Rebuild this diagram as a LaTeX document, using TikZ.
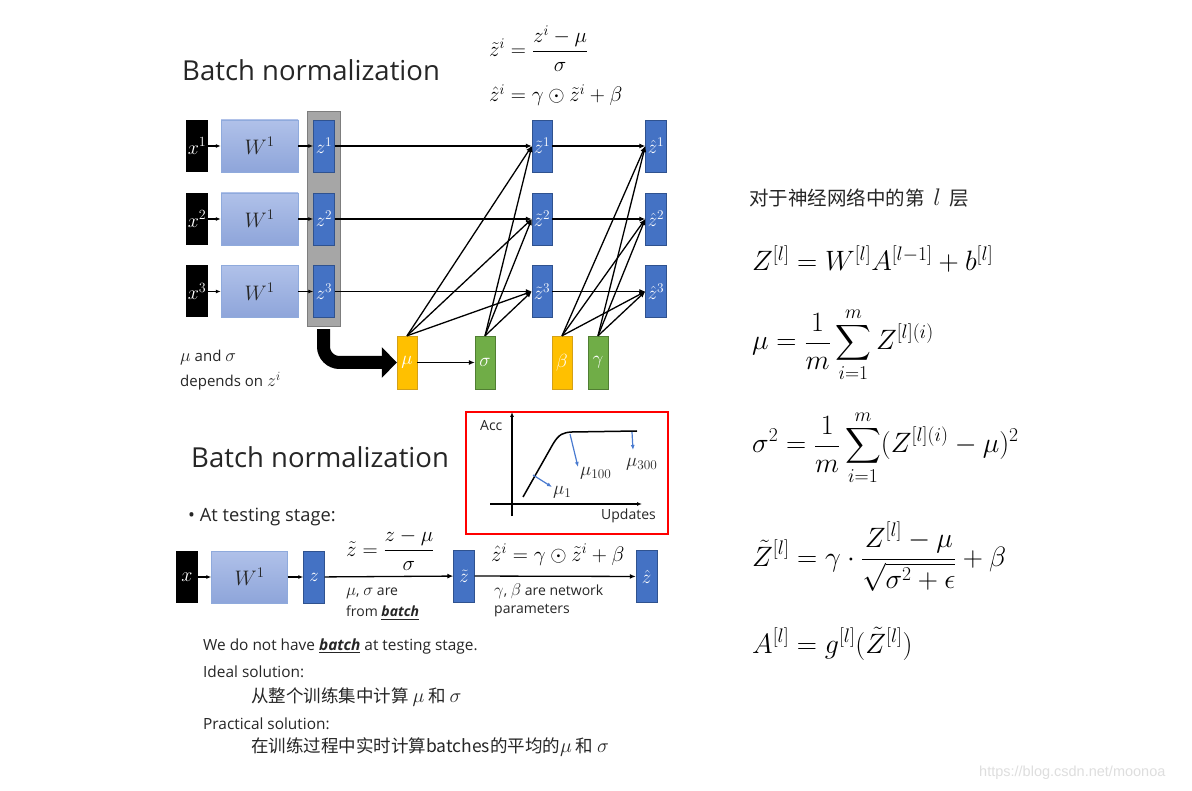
\RequirePackage{fix-cm}
\documentclass[tikz,border=0pt]{standalone}
\usepackage{amsmath}
\usepackage[no-math]{fontspec}
\setmainfont{Open Sans}
\newfontfamily\cjk{Noto Sans CJK SC}
\newfontfamily\wmfont{Liberation Sans}
\usetikzlibrary{arrows.meta}
\newcommand\fsz[1]{\fontsize{#1}{#1}\selectfont}
\definecolor{zblue}{HTML}{4472C4}
\definecolor{zbord}{HTML}{2F528F}
\definecolor{wtop}{HTML}{B0C1E9}
\definecolor{wbot}{HTML}{8EA5DA}
\definecolor{wbord}{HTML}{8FAADC}
\definecolor{yel}{HTML}{FFC000}
\definecolor{yelb}{HTML}{D4A017}
\definecolor{grn}{HTML}{70AD47}
\definecolor{grnb}{HTML}{507E32}
\definecolor{colgray}{HTML}{A6A6A6}
\definecolor{txt}{HTML}{262626}
\definecolor{arrblue}{HTML}{4A7BD0}
\begin{document}
\begin{tikzpicture}[x=1pt,y=-1pt,
  xbox/.style={fill=black, minimum width=22pt, minimum height=52pt, inner sep=0pt, text=white, font=\fsz{20}},
  wbox/.style={draw=wbord, top color=wtop, bottom color=wbot, minimum width=77pt, minimum height=52pt, inner sep=0pt, text=txt, font=\fsz{21}},
  zbox/.style={draw=zbord, fill=zblue, minimum width=21pt, minimum height=52pt, inner sep=0pt, text=white, font=\fsz{19}},
  ybox/.style={draw=yelb, fill=yel, minimum width=20pt, minimum height=53pt, inner sep=0pt, text=white, font=\fsz{19}},
  gbox/.style={draw=grnb, fill=grn, minimum width=20pt, minimum height=53pt, inner sep=0pt, text=white, font=\fsz{19}},
  conn/.style={line width=1.3pt, -{Latex[length=6pt,width=5pt]}},
  thin conn/.style={line width=1.1pt, -{Latex[length=5pt,width=4pt]}},
  lbl/.style={anchor=west, inner sep=0pt, text=txt},
  eq/.style={anchor=base west, inner sep=0pt, font=\fsz{28}}]
\useasboundingbox (0,0) rectangle (1192,791);
\fill[white] (0,0) rectangle (1192,791);

% ---------- top diagram ----------
\node[lbl, font=\fsz{27.5}] (t1) at (182,70) {Batch normalization};
\node[eq, font=\fsz{21}] (f1) at (489,57) {$\displaystyle \tilde{z}^i=\frac{z^i-\mu}{\sigma}$};
\node[eq, font=\fsz{21}] (f2) at (489,102) {$\hat{z}^i=\gamma\odot\tilde{z}^i+\beta$};

\node[fill=colgray, draw=colgray!75!black, minimum width=33pt, minimum height=215pt, inner sep=0pt] (col) at (323.5,218.5) {};

\foreach \i/\yy in {1/146,2/219,3/291.5}{
  \node[xbox] (x\i) at (197,\yy) {$x^{\i}$};
  \node[wbox] (w\i) at (259.5,\yy) {$W^1$};
  \node[zbox] (z\i) at (324,\yy) {$z^{\i}$};
  \node[zbox, minimum width=20pt] (zt\i) at (542,\yy) {$\tilde{z}^{\i}$};
  \node[zbox] (zh\i) at (656,\yy) {$\hat{z}^{\i}$};
  \draw[thin conn] (x\i) -- (w\i);
  \draw[thin conn] (w\i) -- (z\i);
  \draw[conn] (z\i) -- (zt\i);
  \draw[conn] (zt\i) -- (zh\i);
}

\node[ybox] (mu) at (407,362.5) {$\mu$};
\node[gbox] (sig) at (485,362.5) {$\sigma$};
\node[ybox] (beta) at (562,362.5) {$\beta$};
\node[gbox] (gam) at (598,362.5) {$\gamma$};
\draw[conn] (mu) -- (sig);
\foreach \i in {1,2,3}{
  \draw[conn] (mu.north) -- (zt\i.west);
  \draw[conn] (sig.north) -- (zt\i.west);
  \draw[conn] (beta.north) -- (zh\i.west);
  \draw[conn] (gam.north) -- (zh\i.west);
}
\draw[line width=13pt, -{Triangle[length=15pt,width=30pt]}, rounded corners=16pt]
  ([yshift=-3pt]col.south) |- (mu.west);

\node[lbl, font=\fsz{15}] (dep1) at (180,358) {{\fsz{18}$\mu$} and {\fsz{18}$\sigma$}};
\node[lbl, font=\fsz{15}] (dep2) at (180,381) {depends on {\fsz{18}$z^i$}};

% ---------- bottom diagram ----------
\node[lbl, font=\fsz{27.5}] (t2) at (191,457) {Batch normalization};

\node[draw=red, line width=1.8pt, minimum width=202pt, minimum height=122pt, inner sep=0pt] (chart) at (567,473) {};
\draw[line width=1.2pt, -{Latex[length=5pt,width=4pt]}] (512,516) -- (512,412);
\draw[line width=1.2pt, -{Latex[length=5pt,width=4pt]}] (490,504) -- (642,504);
\draw[line width=1.5pt] (523,497) -- (553,444) .. controls (559,434) and (563,432.5) .. (572,432) -- (637,431);
\draw[arrblue, line width=1.2pt, -{Latex[length=5pt,width=4pt]}] (533,475) -- (552,487);
\draw[arrblue, line width=1.2pt, -{Latex[length=5pt,width=4pt]}] (570,434) -- (578,467);
\draw[arrblue, line width=1.2pt, -{Latex[length=5pt,width=4pt]}] (632,432) -- (633,450);
\node[lbl, font=\fsz{19}] (m1) at (553,492) {$\mu_1$};
\node[lbl, font=\fsz{19}] (m100) at (580,473) {$\mu_{100}$};
\node[lbl, font=\fsz{19}] (m300) at (626,464) {$\mu_{300}$};
\node[lbl, font=\fsz{14}] (acc) at (480,426) {Acc};
\node[lbl, font=\fsz{14}] (upd) at (601,516) {Updates};

\node[lbl, font=\fsz{18.3}] (test) at (188,517) {• At testing stage:};

\node[xbox] (bx) at (187,577) {$x$};
\node[wbox, minimum width=76pt] (bw) at (249.5,577) {$W^1$};
\node[zbox] (bz) at (314,577) {$z$};
\node[zbox] (bzt) at (464,576) {$\tilde z$};
\node[zbox] (bzh) at (646.5,576.5) {$\hat z$};
\draw[thin conn] (bx) -- (bw);
\draw[thin conn] (bw) -- (bz);
\draw[conn] (bz) -- (bzt);
\draw[conn] (bzt) -- (bzh);

\node[eq, font=\fsz{21}] (bf1) at (346,556) {$\displaystyle \tilde{z}=\frac{z-\mu}{\sigma}$};
\node[eq, font=\fsz{21}] (bf2) at (491,561) {$\hat{z}^i=\gamma\odot\tilde{z}^i+\beta$};
\node[lbl, font=\fsz{14}] (n1) at (346,593) {{\fsz{17}$\mu$}, {\fsz{17}$\sigma$} are};
\node[lbl, font=\fsz{14}] (n2) at (346,613) {from \underline{\textbf{\textit{batch}}}};
\node[lbl, font=\fsz{14}] (n3) at (494,591) {{\fsz{17}$\gamma$}, {\fsz{17}$\beta$} are network};
\node[lbl, font=\fsz{14}] (n4) at (494,611) {parameters};

\node[lbl, font=\fsz{15.4}] (l1) at (203,646) {We do not have \underline{\textbf{\textit{batch}}} at testing stage.};
\node[lbl, font=\fsz{15.4}] (l2) at (203,672) {Ideal solution:};
\node[lbl, font=\fsz{17.5}] (l3) at (251,697) {\cjk 从整个训练集中计算 {\fsz{20}$\mu$} 和 {\fsz{20}$\sigma$}};
\node[lbl, font=\fsz{15.4}] (l4) at (203,724) {Practical solution:};
\node[lbl, font=\fsz{17.5}] (l5) at (251,747) {\cjk 在训练过程中实时计算batches的平均的{\fsz{20}$\mu$} 和 {\fsz{20}$\sigma$}};

% ---------- right side ----------
\node[lbl, font=\fsz{19.5}] (layer) at (749,198) {\cjk 对于神经网络中的第\ \ {\fsz{24}$l$}\ \ 层};
\node[eq] (e1) at (752,271) {$Z^{[l]}=W^{[l]}A^{[l-1]}+b^{[l]}$};
\node[eq] (e2) at (752,350) {$\displaystyle \mu=\frac{1}{m}\sum_{i=1}^{m}Z^{[l](i)}$};
\node[eq] (e3) at (752,453) {$\displaystyle \sigma^2=\frac{1}{m}\sum_{i=1}^{m}(Z^{[l](i)}-\mu)^2$};
\node[eq] (e4) at (752,566) {$\displaystyle \tilde{Z}^{[l]}=\gamma\cdot\frac{Z^{[l]}-\mu}{\sqrt{\sigma^2+\epsilon}}+\beta$};
\node[eq] (e5) at (752,653) {$A^{[l]}=g^{[l]}(\tilde{Z}^{[l]})$};

\node[lbl, font=\wmfont\fsz{14.5}, text=black!13] (wm) at (979,773) {https://blog.csdn.net/moonoa};
\end{tikzpicture}
\end{document}
